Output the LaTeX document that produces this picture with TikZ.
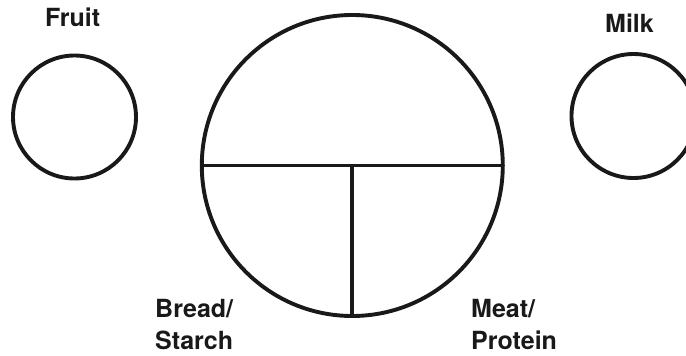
\documentclass[tikz,border=0pt]{standalone}
\usepackage{fontspec}
\setmainfont{TeX Gyre Heros}
\begin{document}
\begin{tikzpicture}[x=1pt,y=-1pt,
  ring/.style={draw=black!90,line width=3.9pt},
  divider/.style={draw=black!90,line width=3.9pt},
  lbl/.style={anchor=base west,inner sep=0pt,font=\fontsize{25}{29}\selectfont\bfseries,text=black!90}]
\useasboundingbox (0,0) rectangle (686,356);
\clip (0,0) rectangle (686,356);
\coordinate (bigc) at (352.3,165.5);
\coordinate (bl) at (201.8,165.5);
\coordinate (br) at (502.8,165.5);
\coordinate (bb) at (352.3,315.5);
\draw[ring] (bigc) circle[radius=150.5];
\draw[divider] (bl) -- (br);
\draw[divider] (bigc) -- (bb);
\draw[ring] (74.5,117) circle[radius=61.5];
\draw[ring] (633.5,116) circle[radius=62];
\node[lbl] (fruit) at (45,27) {Fruit};
\node[lbl] (milk) at (605,32) {Milk};
\node[lbl] (bread1) at (155,317) {Bread/};
\node[lbl] (bread2) at (155,349) {Starch};
\node[lbl] (meat1) at (471,317) {Meat/};
\node[lbl] (meat2) at (471,349) {Protein};
\end{tikzpicture}
\end{document}
